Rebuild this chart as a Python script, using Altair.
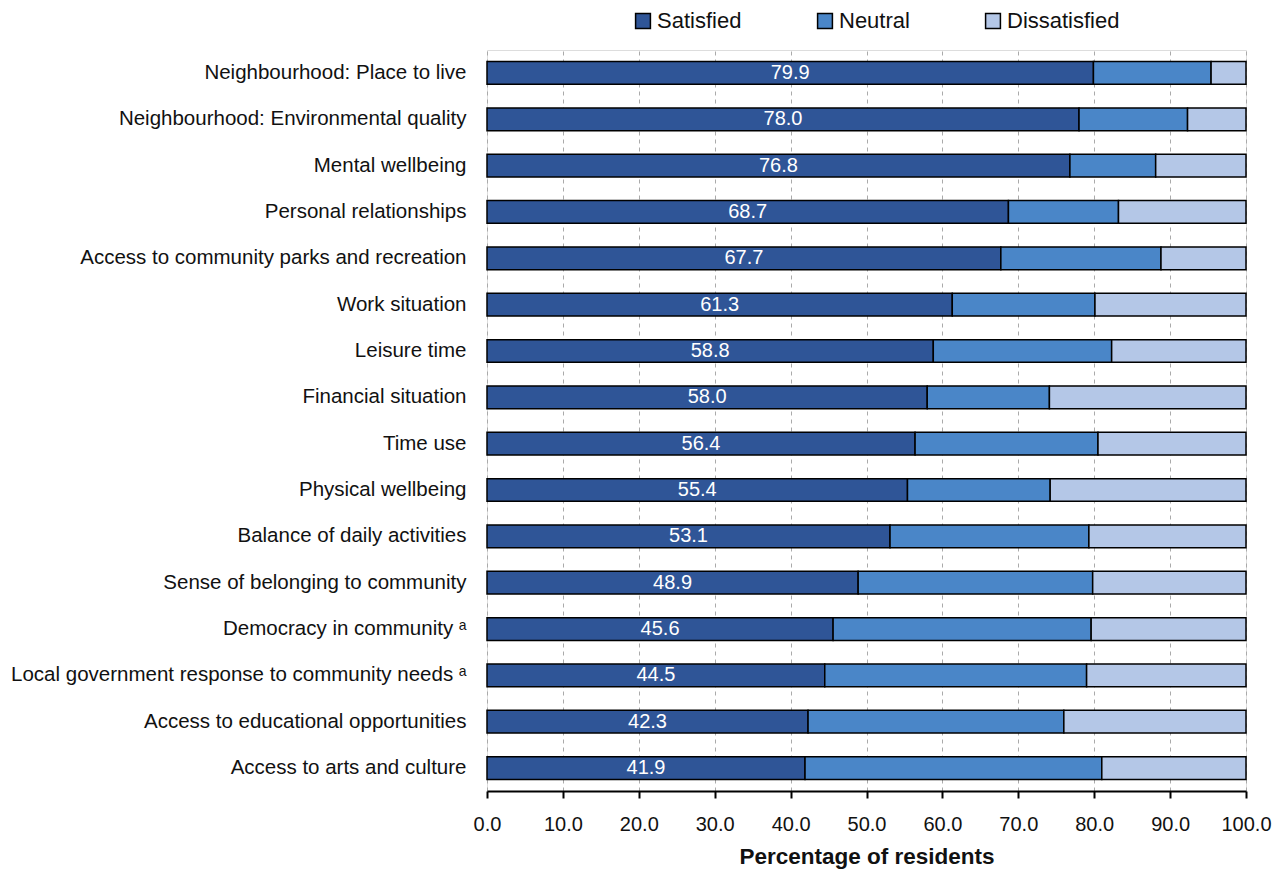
import altair as alt
import pandas as pd

categories = [
    "Neighbourhood: Place to live",
    "Neighbourhood: Environmental quality",
    "Mental wellbeing",
    "Personal relationships",
    "Access to community parks and recreation",
    "Work situation",
    "Leisure time",
    "Financial situation",
    "Time use",
    "Physical wellbeing",
    "Balance of daily activities",
    "Sense of belonging to community",
    "Democracy in community ᵃ",
    "Local government response to community needs ᵃ",
    "Access to educational opportunities ",
    "Access to arts and culture",
]
satisfied = [79.9, 78.0, 76.8, 68.7, 67.7, 61.3, 58.8, 58.0, 56.4, 55.4, 53.1, 48.9, 45.6, 44.5, 42.3, 41.9]
neutral = [15.5, 14.3, 11.3, 14.5, 21.1, 18.8, 23.5, 16.1, 24.1, 18.8, 26.2, 30.9, 34.0, 34.5, 33.7, 39.1]
dissatisfied = [round(100 - s - n, 1) for s, n in zip(satisfied, neutral)]
series = ["Satisfied", "Neutral", "Dissatisfied"]
colors = ["#2F5597", "#4A86C8", "#B4C7E7"]

rows = []
for c, s, n, d in zip(categories, satisfied, neutral, dissatisfied):
    for i, (name, v) in enumerate(zip(series, [s, n, d])):
        rows.append({"category": c, "series": name, "value": v, "order": i})
df = pd.DataFrame(rows)
lab = pd.DataFrame({"category": categories, "value": satisfied})

FONT = "Liberation Sans, Arial"

yenc = alt.Y(
    "category:N",
    sort=categories,
    title=None,
    scale=alt.Scale(paddingInner=0.51, paddingOuter=0.25),
    axis=alt.Axis(ticks=False, domain=False, labelPadding=21, labelFontSize=20.5,
                  labelFont=FONT, labelColor="#111", labelLimit=600),
)

bars = alt.Chart(df).mark_bar(stroke="black", strokeWidth=1.5).encode(
    x=alt.X(
        "value:Q",
        stack="zero",
        scale=alt.Scale(domain=[0, 100], nice=False),
        title="Percentage of residents",
        axis=alt.Axis(values=list(range(0, 101, 10)), format=".1f", grid=True,
                      gridDash=[4, 4], gridColor="#aaaaaa", gridWidth=1,
                      tickColor="black", tickSize=7, tickWidth=2, domainColor="black",
                      domainWidth=2, labelFontSize=20, labelFont=FONT, labelColor="#111",
                      labelPadding=16, labelOverlap=False, labelBound=False,
                      labelFlush=False,
                      titleFont=FONT, titleFontSize=22.5,
                      titleFontWeight="bold", titleColor="#111", titlePadding=11),
    ),
    y=yenc,
    color=alt.Color(
        "series:N",
        scale=alt.Scale(domain=series, range=colors),
        legend=alt.Legend(title=None, orient="none", direction="horizontal",
                          legendX=145, legendY=-40, symbolType="square", symbolSize=220,
                          symbolStrokeColor="black", symbolStrokeWidth=1.5,
                          symbolOpacity=1, labelFont=FONT, labelFontSize=22,
                          labelColor="#111", columnPadding=72, labelOffset=3),
    ),
    order=alt.Order("order:Q"),
)

text = alt.Chart(lab).transform_calculate(mid="datum.value / 2").mark_text(
    color="white", fontSize=20, font=FONT, baseline="middle", align="center"
).encode(
    x=alt.X("mid:Q"),
    y=alt.Y("category:N", sort=categories),
    text=alt.Text("value:Q", format=".1f"),
)

chart = alt.layer(bars, text).properties(
    width=759, height=741, autosize="none",
    padding={"left": 487, "top": 50, "right": 28, "bottom": 80},
).configure_view(stroke="black", strokeWidth=2.5).configure(background="white")

chart.save("out.html", embed_options={"renderer": "svg", "actions": False})
